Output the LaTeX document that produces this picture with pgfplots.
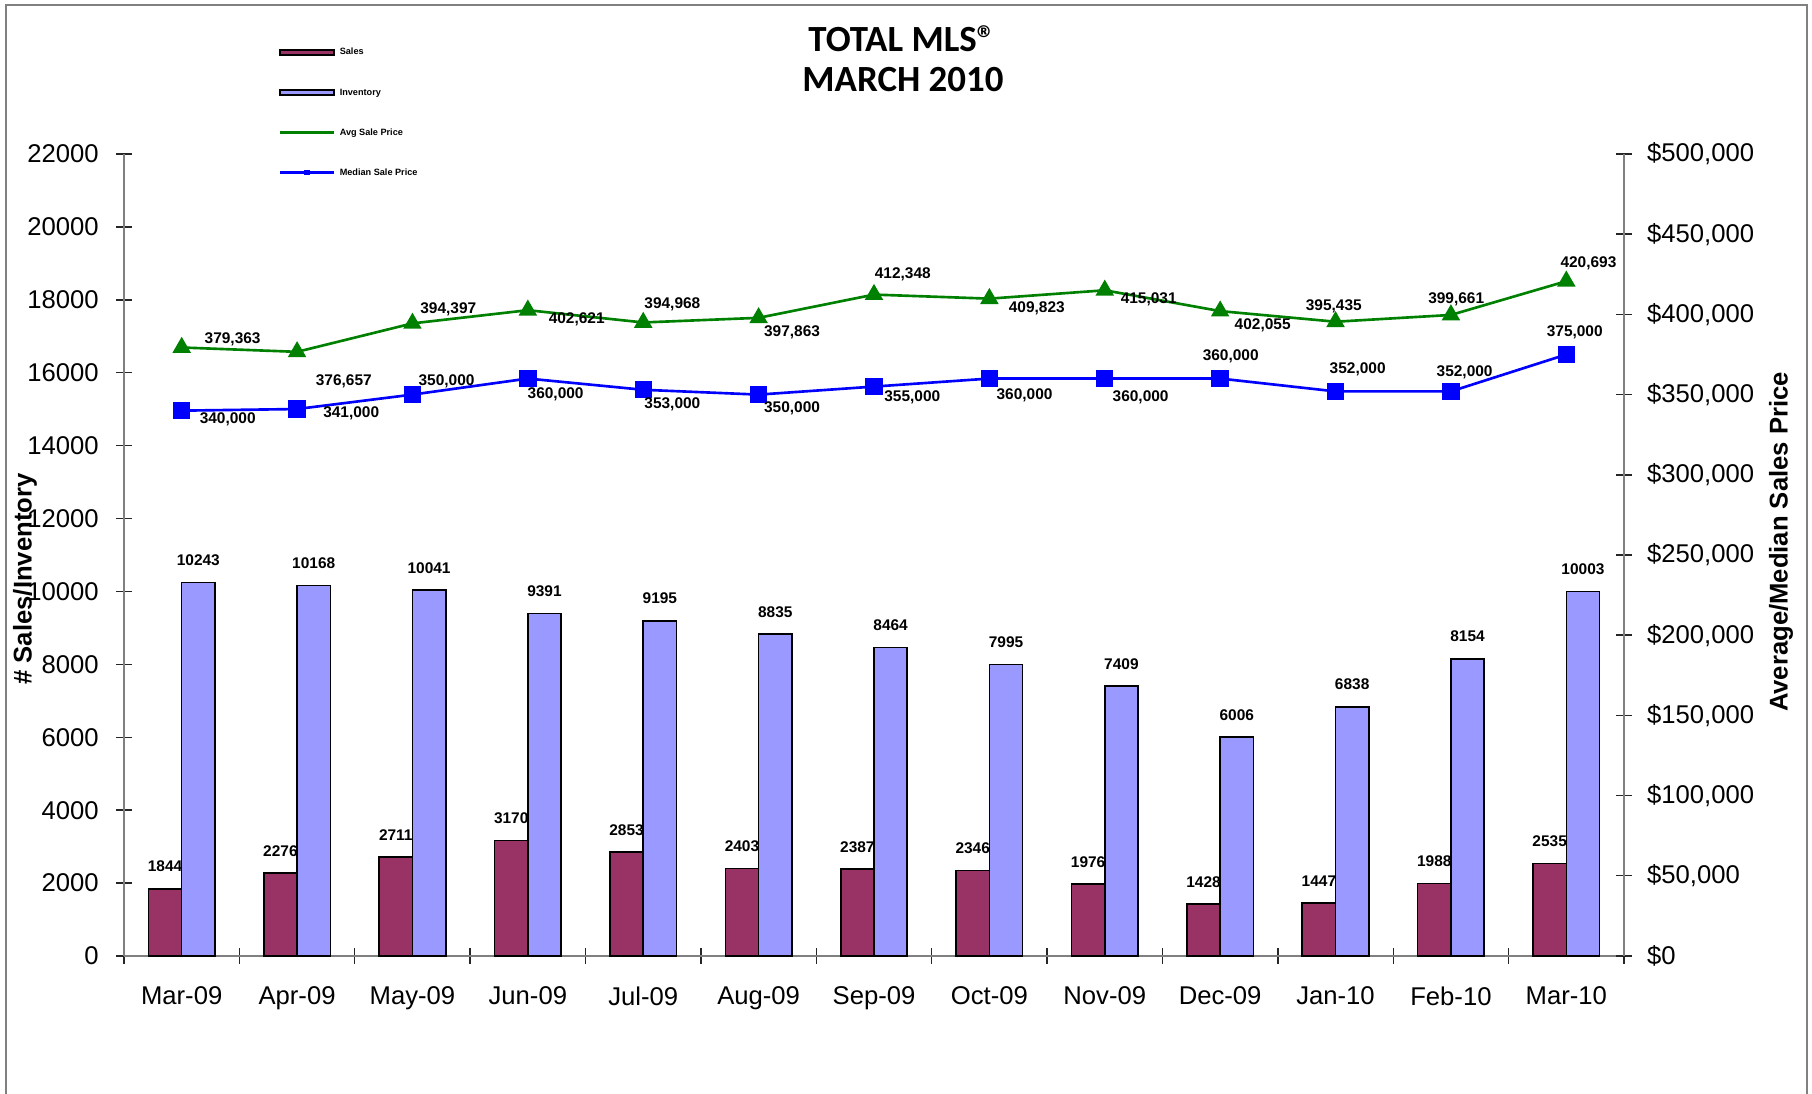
\documentclass[border=0pt]{standalone}
\usepackage{pgfplots}
\pgfplotsset{compat=1.18}
\usepackage{pgfplotstable}
\usepackage{fontspec}
\setmainfont{Liberation Sans}
\newfontfamily\titlefont{Carlito}

\definecolor{salesc}{RGB}{153,51,102}
\definecolor{invc}{RGB}{153,153,255}
\definecolor{avgc}{RGB}{0,128,0}
\definecolor{medc}{RGB}{0,0,255}
\definecolor{axisgray}{RGB}{128,128,128}

% monthly sales and inventory
\pgfplotstableread{
x sales inv
0  1844 10243
1  2276 10168
2  2711 10041
3  3170  9391
4  2853  9195
5  2403  8835
6  2387  8464
7  2346  7995
8  1976  7409
9  1428  6006
10 1447  6838
11 1988  8154
12 2535 10003
}\bars

% prices, with label offsets (pt) as placed in the original
\pgfplotstableread{
x avg adx ady median mdx mdy
0  379363 14.5  2.4 340000 13.1 -2.4
1  376657 13.3 -8.5 341000 15.4 -1.1
2  394397 10.2  4.1 350000  9.7  3.9
3  402621 13.9 -2.6 360000  7.9 -4.6
4  394968  8.3  5.2 353000  8.3 -4.0
5  397863  9.5 -4.0 350000  9.5 -3.9
6  412348  8.2  5.9 355000 10.9 -3.1
7  409823 13.5 -2.8 360000 10.0 -4.9
8  415031 12.5 -2.6 360000 10.2 -5.4
9  402055 12.1 -4.0 360000  3.0  6.3
10 395435 -0.5  4.3 352000  6.3  6.3
11 399661  1.5  4.4 352000  3.9  5.4
12 420693  6.3  5.2 375000  2.4  6.3
}\prices

\newcommand{\ticksize}{\fontsize{7.3}{8.5}\selectfont}
\newcommand{\labsize}{\fontsize{4.4}{5}\selectfont\bfseries}

\pgfplotsset{
  mlsbase/.style={
    at={(1.24cm,1.38cm)}, anchor=south west,
    scale only axis, width=15cm, height=8.02cm,
    xmin=-0.5, xmax=12.5,
    clip=false,
    axis line style={axisgray, line width=0.5pt},
    tick style={black!85, line width=0.4pt},
    /pgf/number format/assume math mode=true,
    tick label style={font=\ticksize},
    scaled y ticks=false,
  }
}

\begin{document}
\begin{tikzpicture}
\useasboundingbox (0,0) rectangle (18.12,10.94);
\draw[axisgray, line width=0.6pt] (0.06,0) -- (0.06,10.89) -- (18.07,10.89) -- (18.07,0);

\begin{axis}[mlsbase,
  ymin=0, ymax=22000, ytick={0,2000,...,22000},
  axis y line*=left, axis x line*=bottom,
  xtick align=center, ytick align=center,
  xtick={0,...,12},
  xticklabels={Mar-09,Apr-09,May-09,Jun-09,Jul-09,Aug-09,Sep-09,Oct-09,Nov-09,Dec-09,Jan-10,Feb-10,Mar-10},
  minor xtick={-0.5,0.5,...,12.5},
  major x tick style={draw=none},
  minor x tick style={yshift=2.15pt},
  major tick length=4.5pt, minor tick length=4.3pt,
  /pgf/number format/.cd, fixed, precision=0, 1000 sep={}, /pgfplots/.cd,
  yticklabel style={xshift=-1.4pt},
  xticklabel style={yshift=-0.7pt},
  ybar=0pt, bar width=9.47pt,
  nodes near coords,
  nodes near coords style={font=\labsize, text=black, yshift=1.2pt},
]
\addplot[draw=black, line width=0.45pt, fill=salesc] table[x=x,y=sales]{\bars};
\addplot[draw=black, line width=0.45pt, fill=invc] table[x=x,y=inv]{\bars};
\end{axis}

\begin{axis}[mlsbase,
  ymin=0, ymax=500000, ytick={0,50000,...,500000},
  axis y line*=right, axis x line=none,
  ytick align=center,
  major tick length=4.5pt,
  yticklabel={\$\pgfmathprintnumber[fixed,precision=0,1000 sep={,}]{\tick}},
  yticklabel style={xshift=0.8pt},
  legend cell align=left,
  legend style={at={(0.1027,1.1331)}, anchor=north west, draw=none, fill=none,
    inner sep=0pt, row sep=8.9pt, column sep=1.4pt,
    font=\fontsize{2.6}{3}\selectfont\bfseries,
    nodes={inner sep=0pt, text height=2pt, text depth=0.5pt}},
]
\addlegendimage{legend image code/.code={\draw[line width=0.6pt, draw=black, fill=salesc] (0mm,-0.25mm) rectangle (5.4mm,0.25mm);}}
\addlegendentry{Sales}
\addlegendimage{legend image code/.code={\draw[line width=0.6pt, draw=black, fill=invc] (0mm,-0.25mm) rectangle (5.4mm,0.25mm);}}
\addlegendentry{Inventory}
\addlegendimage{legend image code/.code={\draw[avgc, line width=0.6pt] (0mm,0mm) -- (5.4mm,0mm); \fill[avgc] (2.55mm,-0.12mm) rectangle (2.85mm,0.12mm);}}
\addlegendentry{Avg Sale Price}
\addlegendimage{legend image code/.code={\draw[medc, line width=0.6pt] (0mm,0mm) -- (5.4mm,0mm); \fill[medc] (2.5mm,-0.2mm) rectangle (2.9mm,0.2mm);}}
\addlegendentry{Median Sale Price}

\addplot[avgc, line width=0.75pt, mark=triangle*, mark size=2.3pt, mark options={solid}, forget plot,
  point meta=y, nodes near coords,
  visualization depends on={\thisrow{adx} \as \dx},
  visualization depends on={\thisrow{ady} \as \dy},
  nodes near coords style={anchor=center, xshift=\dx pt, yshift=\dy pt, font=\labsize, text=black,
    /pgf/number format/.cd, fixed, precision=0, 1000 sep={,}}]
  table[x=x,y=avg]{\prices};
\addplot[medc, line width=0.75pt, mark=square*, mark size=2.1pt, mark options={solid}, forget plot,
  point meta=y, nodes near coords,
  visualization depends on={\thisrow{mdx} \as \dx},
  visualization depends on={\thisrow{mdy} \as \dy},
  nodes near coords style={anchor=center, xshift=\dx pt, yshift=\dy pt, font=\labsize, text=black,
    /pgf/number format/.cd, fixed, precision=0, 1000 sep={,}}]
  table[x=x,y=median]{\prices};
\end{axis}

\node[font=\titlefont\fontsize{10.5}{12}\selectfont\bfseries] at (9.02,10.55) {TOTAL MLS®};
\node[font=\titlefont\fontsize{10.5}{12}\selectfont\bfseries] at (9.03,10.14) {MARCH 2010};
\node[rotate=90, font=\fontsize{7.3}{8.5}\selectfont\bfseries] at (0.25,5.15) {\# Sales/Inventory};
\node[rotate=90, font=\fontsize{7.3}{8.5}\selectfont\bfseries] at (17.81,5.52) {Average/Median Sales Price};
\end{tikzpicture}
\end{document}
